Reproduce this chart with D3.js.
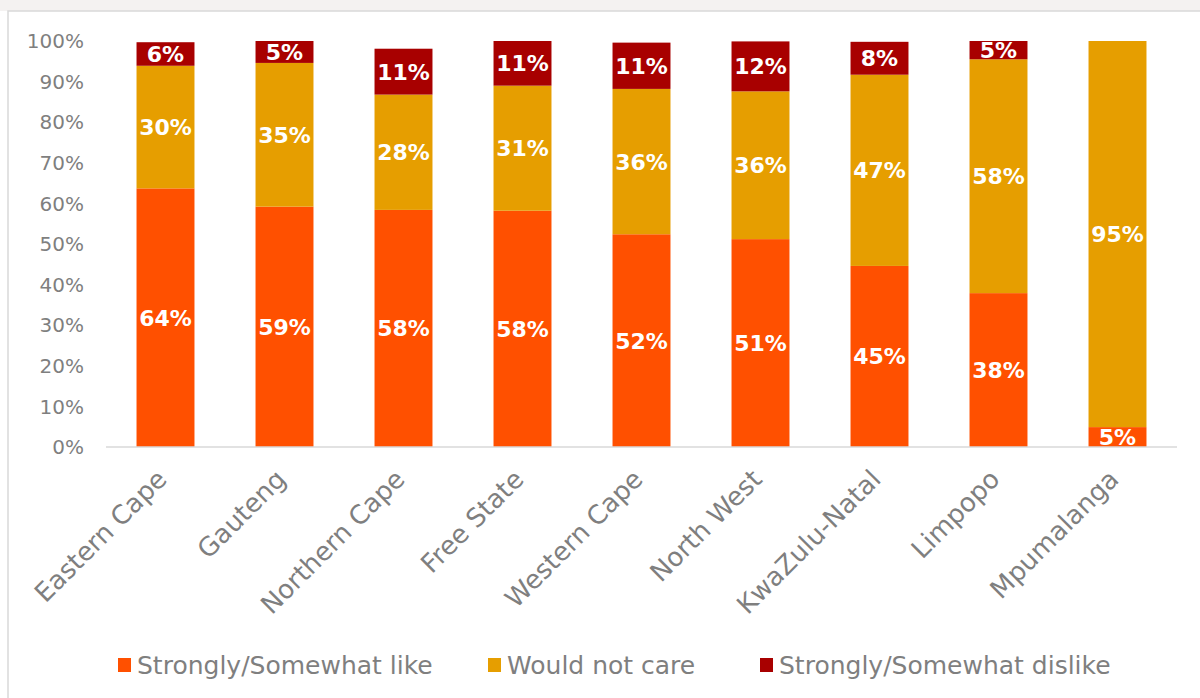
<!DOCTYPE html>
<html>
<head>
<meta charset="utf-8">
<script src="https://cdn.jsdelivr.net/npm/d3@7"></script>
<style>
  html, body { margin: 0; padding: 0; background: #ffffff; }
  svg { display: block; }
</style>
</head>
<body>
<script>
const categories = ["Eastern Cape", "Gauteng", "Northern Cape", "Free State", "Western Cape", "North West", "KwaZulu-Natal", "Limpopo", "Mpumalanga"];
const seriesNames = ["Strongly/Somewhat like", "Would not care", "Strongly/Somewhat dislike"];
const likeValues    = [63.7, 59.2, 58.4, 58.2, 52.4, 51.2, 44.6, 37.9, 4.9];
const notCareValues = [30.2, 35.4, 28.4, 30.8, 35.8, 36.4, 47.1, 57.6, 95.1];
const dislikeValues = [5.8, 5.4, 11.3, 11.0, 11.4, 12.3, 8.1, 4.5, 0];
const yTicks = [0, 10, 20, 30, 40, 50, 60, 70, 80, 90, 100];
const colors = ["#FF5000", "#E69E00", "#A80000"];

const W = 1200, H = 698;
const svg = d3.select("body").append("svg").attr("width", W).attr("height", H);

// faint header strip and frame
svg.append("rect").attr("x", 0).attr("y", 0).attr("width", W).attr("height", 11).attr("fill", "#f4f2f1");
svg.append("rect").attr("x", 8).attr("y", 11).attr("width", W + 10).attr("height", H + 10)
  .attr("fill", "#ffffff").attr("stroke", "#d9d9d9").attr("stroke-width", 1.5);

const x = d3.scaleBand().domain(categories).range([106, 1177]).paddingInner(0.513).paddingOuter(0.2565);
const y = d3.scaleLinear().domain([0, 100]).range([447, 41]);

const rows = categories.map((c, i) => ({ cat: c, like: likeValues[i], care: notCareValues[i], dislike: dislikeValues[i] }));
const stack = d3.stack().keys(["like", "care", "dislike"]);
const series = stack(rows);

// y tick labels
svg.append("g").selectAll("text").data(yTicks).join("text")
  .attr("x", 84).attr("y", d => y(d)).attr("dy", "0.36em")
  .attr("text-anchor", "end")
  .attr("font-family", "DejaVu Sans").attr("font-size", 20).attr("fill", "#7f7f7f")
  .text(d => d + "%");

// bars
const gBars = svg.append("g");
series.forEach((s, si) => {
  gBars.append("g").attr("fill", colors[si]).selectAll("rect").data(s).join("rect")
    .attr("x", d => x(d.data.cat))
    .attr("width", x.bandwidth())
    .attr("y", d => y(d[1]))
    .attr("height", d => Math.max(0, y(d[0]) - y(d[1])));
});

// baseline
svg.append("line").attr("x1", 106).attr("x2", 1177).attr("y1", y(0)).attr("y2", y(0))
  .attr("stroke", "#d9d9d9").attr("stroke-width", 1.5);

// data labels (clipped to plot)
svg.append("clipPath").attr("id", "plotClip").append("rect")
  .attr("x", 106).attr("y", y(100)).attr("width", 1071).attr("height", y(0) - y(100));
const gLab = svg.append("g").attr("clip-path", "url(#plotClip)");
series.forEach((s, si) => {
  gLab.append("g").selectAll("text").data(s.filter(d => (d[1] - d[0]) > 0)).join("text")
    .attr("x", d => x(d.data.cat) + x.bandwidth() / 2)
    .attr("y", d => (y(d[0]) + y(d[1])) / 2)
    .attr("dy", "0.36em")
    .attr("text-anchor", "middle")
    .attr("font-family", "DejaVu Sans").attr("font-weight", "bold").attr("font-size", 22)
    .attr("fill", "#ffffff")
    .text(d => Math.round(d[1] - d[0]) + "%");
});

// category labels
svg.append("g").selectAll("text").data(categories).join("text")
  .attr("transform", d => `translate(${x(d) + x.bandwidth() / 2 - 10},${468}) rotate(-45)`)
  .attr("text-anchor", "end")
  .attr("dy", "0.7em")
  .attr("font-family", "DejaVu Sans").attr("font-size", 26).attr("fill", "#7f7f7f")
  .text(d => d);

// legend
const legendX = [118, 488, 760];
const gLeg = svg.append("g");
seriesNames.forEach((n, i) => {
  gLeg.append("rect").attr("x", legendX[i]).attr("y", 658).attr("width", 13).attr("height", 14).attr("fill", colors[i]);
  gLeg.append("text").attr("x", legendX[i] + 19).attr("y", 665).attr("dy", "0.36em")
    .attr("font-family", "DejaVu Sans").attr("font-size", 25).attr("fill", "#7f7f7f").text(n);
});
</script>
</body>
</html>
